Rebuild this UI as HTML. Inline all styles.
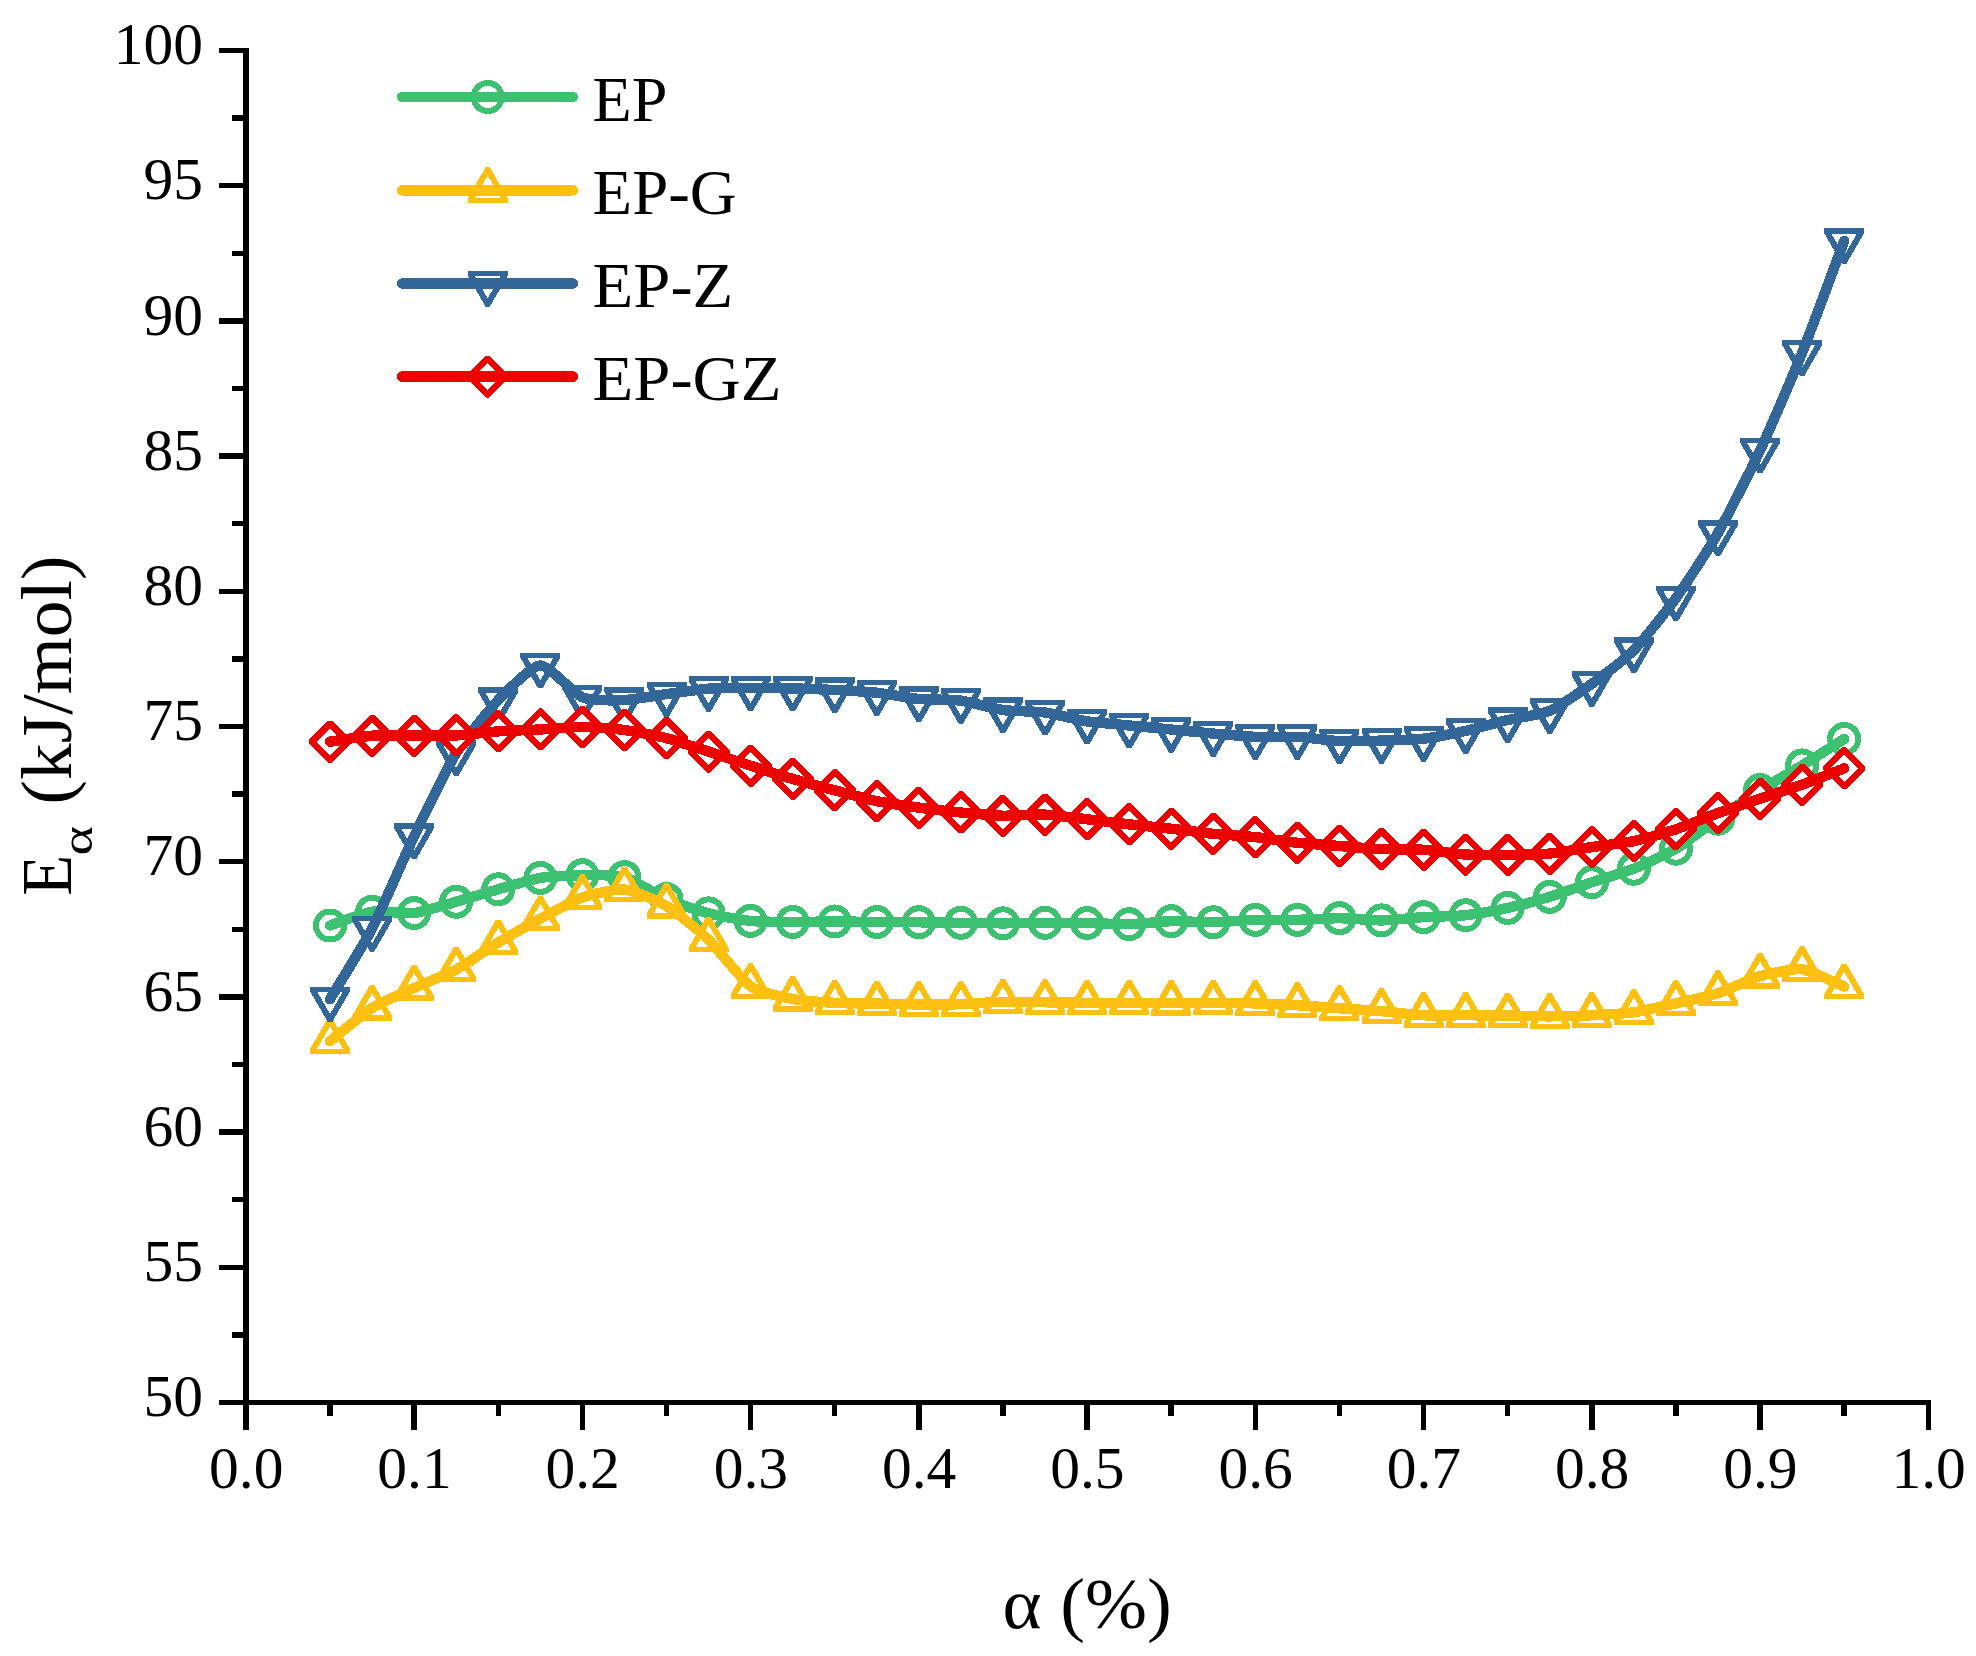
<!DOCTYPE html>
<html lang="en">
<head>
<meta charset="utf-8">
<title>Activation energy vs conversion</title>
<style>
html,body{margin:0;padding:0;background:#fff;}
body{width:1976px;height:1656px;overflow:hidden;font-family:'Liberation Serif',serif;}
svg{display:block;}
</style>
</head>
<body>
<svg width="1976" height="1656" viewBox="0 0 1976 1656">
<rect width="1976" height="1656" fill="#fff"/>
<defs>
<circle id="mc" r="14.0" fill="#fff" stroke="#3BC16F" stroke-width="6"/>
<g id="mu"><path d="M-2.19 -23.00L2.19 -23.00L20.00 7.84L20.00 12.60L-20.00 12.60L-20.00 7.84Z" fill="#FEC010"/><path d="M0.00 -14.80L12.82 7.40L-12.82 7.40Z" fill="#fff"/></g>
<g id="md"><path d="M-2.19 23.00L2.19 23.00L20.00 -7.84L20.00 -12.60L-20.00 -12.60L-20.00 -7.84Z" fill="#336699"/><path d="M0.00 14.80L12.82 -7.40L-12.82 -7.40Z" fill="#fff"/></g>
<g id="mr"><path d="M-1.70 -21.00L1.70 -21.00L21.00 -1.70L21.00 1.70L1.70 21.00L-1.70 21.00L-21.00 1.70L-21.00 -1.70Z" fill="#EE0000"/><path d="M0.00 -13.60L13.60 0.00L0.00 13.60L-13.60 0.00Z" fill="#fff"/></g>
</defs>
<g id="series" shape-rendering="crispEdges">
<use href="#mc" x="330.02" y="925.51"/>
<use href="#mc" x="372.08" y="911.72"/>
<use href="#mc" x="414.14" y="913.08"/>
<use href="#mc" x="456.2" y="901.72"/>
<use href="#mc" x="498.26" y="889.28"/>
<use href="#mc" x="540.32" y="877.92"/>
<use href="#mc" x="582.38" y="875.22"/>
<use href="#mc" x="624.44" y="877.11"/>
<use href="#mc" x="666.5" y="899.02"/>
<use href="#mc" x="708.56" y="913.35"/>
<use href="#mc" x="750.62" y="920.92"/>
<use href="#mc" x="792.68" y="922"/>
<use href="#mc" x="834.74" y="921.46"/>
<use href="#mc" x="876.8" y="922"/>
<use href="#mc" x="918.86" y="922.27"/>
<use href="#mc" x="960.92" y="922.81"/>
<use href="#mc" x="1002.98" y="923.35"/>
<use href="#mc" x="1045.04" y="922.81"/>
<use href="#mc" x="1087.1" y="923.08"/>
<use href="#mc" x="1129.16" y="924.16"/>
<use href="#mc" x="1171.22" y="921.19"/>
<use href="#mc" x="1213.28" y="922.27"/>
<use href="#mc" x="1255.34" y="919.84"/>
<use href="#mc" x="1297.4" y="919.84"/>
<use href="#mc" x="1339.46" y="918.21"/>
<use href="#mc" x="1381.52" y="920.38"/>
<use href="#mc" x="1423.58" y="917.13"/>
<use href="#mc" x="1465.64" y="915.24"/>
<use href="#mc" x="1507.7" y="907.94"/>
<use href="#mc" x="1549.76" y="896.85"/>
<use href="#mc" x="1591.82" y="882.25"/>
<use href="#mc" x="1633.88" y="868.73"/>
<use href="#mc" x="1675.94" y="848.72"/>
<use href="#mc" x="1718" y="818.71"/>
<use href="#mc" x="1760.06" y="790.04"/>
<use href="#mc" x="1802.12" y="765.44"/>
<use href="#mc" x="1844.18" y="738.94"/>
<path d="M330.02 925.51C334.23 924.14 363.67 912.97 372.08 911.72C380.49 910.48 405.73 914.08 414.14 913.08C422.55 912.08 447.79 904.1 456.2 901.72C464.61 899.34 489.85 891.66 498.26 889.28C506.67 886.9 531.91 879.33 540.32 877.92C548.73 876.52 573.97 875.3 582.38 875.22C590.79 875.14 616.03 874.73 624.44 877.11C632.85 879.49 658.09 895.39 666.5 899.02C674.91 902.64 700.15 911.16 708.56 913.35C716.97 915.54 742.21 920.05 750.62 920.92C759.03 921.78 784.27 921.95 792.68 922C801.09 922.05 826.33 921.46 834.74 921.46C843.15 921.46 868.39 921.92 876.8 922C885.21 922.08 910.45 922.19 918.86 922.27C927.27 922.35 952.51 922.7 960.92 922.81C969.33 922.92 994.57 923.35 1002.98 923.35C1011.39 923.35 1036.63 922.84 1045.04 922.81C1053.45 922.78 1078.69 922.95 1087.1 923.08C1095.51 923.22 1120.75 924.35 1129.16 924.16C1137.57 923.97 1162.81 921.38 1171.22 921.19C1179.63 921 1204.87 922.4 1213.28 922.27C1221.69 922.13 1246.93 920.08 1255.34 919.84C1263.75 919.59 1288.99 920 1297.4 919.84C1305.81 919.67 1331.05 918.16 1339.46 918.21C1347.87 918.27 1373.11 920.48 1381.52 920.38C1389.93 920.27 1415.17 917.65 1423.58 917.13C1431.99 916.62 1457.23 916.16 1465.64 915.24C1474.05 914.32 1499.29 909.78 1507.7 907.94C1516.11 906.1 1541.35 899.42 1549.76 896.85C1558.17 894.28 1583.41 885.06 1591.82 882.25C1600.23 879.44 1625.47 872.08 1633.88 868.73C1642.29 865.38 1667.53 853.72 1675.94 848.72C1684.35 843.72 1709.59 824.57 1718 818.71C1726.41 812.84 1751.65 795.37 1760.06 790.04C1768.47 784.72 1793.71 770.55 1802.12 765.44C1810.53 760.33 1839.97 741.59 1844.18 738.94" fill="none" stroke="#3BC16F" stroke-width="10.4" stroke-linecap="round" stroke-linejoin="round"/>
<use href="#mu" x="330.02" y="1041.22"/>
<use href="#mu" x="372.08" y="1007.96"/>
<use href="#mu" x="414.14" y="987.95"/>
<use href="#mu" x="456.2" y="969.56"/>
<use href="#mu" x="498.26" y="942.52"/>
<use href="#mu" x="540.32" y="918.73"/>
<use href="#mu" x="582.38" y="897.37"/>
<use href="#mu" x="624.44" y="889.52"/>
<use href="#mu" x="666.5" y="906.02"/>
<use href="#mu" x="708.56" y="939.82"/>
<use href="#mu" x="750.62" y="986.33"/>
<use href="#mu" x="792.68" y="999.04"/>
<use href="#mu" x="834.74" y="1002.82"/>
<use href="#mu" x="876.8" y="1003.63"/>
<use href="#mu" x="918.86" y="1004.44"/>
<use href="#mu" x="960.92" y="1004.17"/>
<use href="#mu" x="1002.98" y="1001.74"/>
<use href="#mu" x="1045.04" y="1002.28"/>
<use href="#mu" x="1087.1" y="1002.82"/>
<use href="#mu" x="1129.16" y="1002.82"/>
<use href="#mu" x="1171.22" y="1003.09"/>
<use href="#mu" x="1213.28" y="1002.82"/>
<use href="#mu" x="1255.34" y="1003.36"/>
<use href="#mu" x="1297.4" y="1005.26"/>
<use href="#mu" x="1339.46" y="1008.23"/>
<use href="#mu" x="1381.52" y="1011.2"/>
<use href="#mu" x="1423.58" y="1015.26"/>
<use href="#mu" x="1465.64" y="1015.26"/>
<use href="#mu" x="1507.7" y="1015.53"/>
<use href="#mu" x="1549.76" y="1016.34"/>
<use href="#mu" x="1591.82" y="1015.26"/>
<use href="#mu" x="1633.88" y="1012.29"/>
<use href="#mu" x="1675.94" y="1003.36"/>
<use href="#mu" x="1718" y="993.36"/>
<use href="#mu" x="1760.06" y="976.05"/>
<use href="#mu" x="1802.12" y="969.29"/>
<use href="#mu" x="1844.18" y="986.6"/>
<path d="M330.02 1041.22C334.23 1037.89 363.67 1013.29 372.08 1007.96C380.49 1002.63 405.73 991.79 414.14 987.95C422.55 984.11 447.79 974.11 456.2 969.56C464.61 965.02 489.85 947.61 498.26 942.52C506.67 937.44 531.91 923.24 540.32 918.73C548.73 914.21 573.97 900.29 582.38 897.37C590.79 894.45 616.03 888.66 624.44 889.52C632.85 890.39 658.09 900.99 666.5 906.02C674.91 911.05 700.15 931.79 708.56 939.82C716.97 947.85 742.21 980.41 750.62 986.33C759.03 992.25 784.27 997.39 792.68 999.04C801.09 1000.69 826.33 1002.36 834.74 1002.82C843.15 1003.28 868.39 1003.47 876.8 1003.63C885.21 1003.8 910.45 1004.39 918.86 1004.44C927.27 1004.5 952.51 1004.44 960.92 1004.17C969.33 1003.9 994.57 1001.93 1002.98 1001.74C1011.39 1001.55 1036.63 1002.17 1045.04 1002.28C1053.45 1002.39 1078.69 1002.77 1087.1 1002.82C1095.51 1002.88 1120.75 1002.79 1129.16 1002.82C1137.57 1002.85 1162.81 1003.09 1171.22 1003.09C1179.63 1003.09 1204.87 1002.79 1213.28 1002.82C1221.69 1002.85 1246.93 1003.12 1255.34 1003.36C1263.75 1003.61 1288.99 1004.77 1297.4 1005.26C1305.81 1005.74 1331.05 1007.63 1339.46 1008.23C1347.87 1008.82 1373.11 1010.5 1381.52 1011.2C1389.93 1011.91 1415.17 1014.85 1423.58 1015.26C1431.99 1015.67 1457.23 1015.23 1465.64 1015.26C1474.05 1015.29 1499.29 1015.42 1507.7 1015.53C1516.11 1015.64 1541.35 1016.37 1549.76 1016.34C1558.17 1016.31 1583.41 1015.67 1591.82 1015.26C1600.23 1014.85 1625.47 1013.48 1633.88 1012.29C1642.29 1011.1 1667.53 1005.26 1675.94 1003.36C1684.35 1001.47 1709.59 996.09 1718 993.36C1726.41 990.63 1751.65 978.46 1760.06 976.05C1768.47 973.65 1793.71 968.24 1802.12 969.29C1810.53 970.35 1839.97 984.87 1844.18 986.6" fill="none" stroke="#FEC010" stroke-width="10.4" stroke-linecap="round" stroke-linejoin="round"/>
<use href="#md" x="330.02" y="999.12"/>
<use href="#md" x="372.08" y="928.54"/>
<use href="#md" x="414.14" y="836.07"/>
<use href="#md" x="456.2" y="753.05"/>
<use href="#md" x="498.26" y="700.05"/>
<use href="#md" x="540.32" y="665.44"/>
<use href="#md" x="582.38" y="697.35"/>
<use href="#md" x="624.44" y="700.05"/>
<use href="#md" x="666.5" y="694.11"/>
<use href="#md" x="708.56" y="688.7"/>
<use href="#md" x="750.62" y="688.16"/>
<use href="#md" x="792.68" y="688.43"/>
<use href="#md" x="834.74" y="690.05"/>
<use href="#md" x="876.8" y="692.75"/>
<use href="#md" x="918.86" y="698.97"/>
<use href="#md" x="960.92" y="700.6"/>
<use href="#md" x="1002.98" y="710.06"/>
<use href="#md" x="1045.04" y="712.49"/>
<use href="#md" x="1087.1" y="721.42"/>
<use href="#md" x="1129.16" y="725.47"/>
<use href="#md" x="1171.22" y="729.53"/>
<use href="#md" x="1213.28" y="733.58"/>
<use href="#md" x="1255.34" y="736.83"/>
<use href="#md" x="1297.4" y="736.83"/>
<use href="#md" x="1339.46" y="741.16"/>
<use href="#md" x="1381.52" y="740.61"/>
<use href="#md" x="1423.58" y="738.72"/>
<use href="#md" x="1465.64" y="730.88"/>
<use href="#md" x="1507.7" y="720.06"/>
<use href="#md" x="1549.76" y="710.87"/>
<use href="#md" x="1591.82" y="683.83"/>
<use href="#md" x="1633.88" y="650.03"/>
<use href="#md" x="1675.94" y="598.11"/>
<use href="#md" x="1718" y="532.95"/>
<use href="#md" x="1760.06" y="450.48"/>
<use href="#md" x="1802.12" y="352.86"/>
<use href="#md" x="1844.18" y="240.92"/>
<path d="M330.02 999.12C334.23 992.06 363.67 944.85 372.08 928.54C380.49 912.24 405.73 853.62 414.14 836.07C422.55 818.52 447.79 766.65 456.2 753.05C464.61 739.45 489.85 708.82 498.26 700.05C506.67 691.29 531.91 665.71 540.32 665.44C548.73 665.17 573.97 693.89 582.38 697.35C590.79 700.81 616.03 700.38 624.44 700.05C632.85 699.73 658.09 695.24 666.5 694.11C674.91 692.97 700.15 689.29 708.56 688.7C716.97 688.1 742.21 688.18 750.62 688.16C759.03 688.13 784.27 688.24 792.68 688.43C801.09 688.62 826.33 689.62 834.74 690.05C843.15 690.48 868.39 691.86 876.8 692.75C885.21 693.65 910.45 698.19 918.86 698.97C927.27 699.76 952.51 699.49 960.92 700.6C969.33 701.7 994.57 708.87 1002.98 710.06C1011.39 711.25 1036.63 711.36 1045.04 712.49C1053.45 713.63 1078.69 720.12 1087.1 721.42C1095.51 722.71 1120.75 724.66 1129.16 725.47C1137.57 726.28 1162.81 728.72 1171.22 729.53C1179.63 730.34 1204.87 732.85 1213.28 733.58C1221.69 734.31 1246.93 736.5 1255.34 736.83C1263.75 737.15 1288.99 736.4 1297.4 736.83C1305.81 737.26 1331.05 740.78 1339.46 741.16C1347.87 741.53 1373.11 740.86 1381.52 740.61C1389.93 740.37 1415.17 739.7 1423.58 738.72C1431.99 737.75 1457.23 732.75 1465.64 730.88C1474.05 729.01 1499.29 722.07 1507.7 720.06C1516.11 718.06 1541.35 714.49 1549.76 710.87C1558.17 707.25 1583.41 689.91 1591.82 683.83C1600.23 677.75 1625.47 658.6 1633.88 650.03C1642.29 641.46 1667.53 609.82 1675.94 598.11C1684.35 586.41 1709.59 547.71 1718 532.95C1726.41 518.18 1751.65 468.48 1760.06 450.48C1768.47 432.47 1793.71 373.82 1802.12 352.86C1810.53 331.91 1839.97 252.11 1844.18 240.92" fill="none" stroke="#336699" stroke-width="10.4" stroke-linecap="round" stroke-linejoin="round"/>
<use href="#mr" x="330.02" y="741.64"/>
<use href="#mr" x="372.08" y="735.69"/>
<use href="#mr" x="414.14" y="735.69"/>
<use href="#mr" x="456.2" y="735.42"/>
<use href="#mr" x="498.26" y="731.37"/>
<use href="#mr" x="540.32" y="729.47"/>
<use href="#mr" x="582.38" y="727.04"/>
<use href="#mr" x="624.44" y="730.02"/>
<use href="#mr" x="666.5" y="738.13"/>
<use href="#mr" x="708.56" y="751.65"/>
<use href="#mr" x="750.62" y="765.71"/>
<use href="#mr" x="792.68" y="778.96"/>
<use href="#mr" x="834.74" y="790.31"/>
<use href="#mr" x="876.8" y="801.13"/>
<use href="#mr" x="918.86" y="807.62"/>
<use href="#mr" x="960.92" y="812.49"/>
<use href="#mr" x="1002.98" y="815.73"/>
<use href="#mr" x="1045.04" y="814.65"/>
<use href="#mr" x="1087.1" y="819.25"/>
<use href="#mr" x="1129.16" y="824.38"/>
<use href="#mr" x="1171.22" y="828.71"/>
<use href="#mr" x="1213.28" y="833.85"/>
<use href="#mr" x="1255.34" y="837.09"/>
<use href="#mr" x="1297.4" y="842.77"/>
<use href="#mr" x="1339.46" y="846.02"/>
<use href="#mr" x="1381.52" y="849.13"/>
<use href="#mr" x="1423.58" y="849.8"/>
<use href="#mr" x="1465.64" y="854.53"/>
<use href="#mr" x="1507.7" y="854.94"/>
<use href="#mr" x="1549.76" y="853.59"/>
<use href="#mr" x="1591.82" y="847.1"/>
<use href="#mr" x="1633.88" y="841.15"/>
<use href="#mr" x="1675.94" y="829.25"/>
<use href="#mr" x="1718" y="813.03"/>
<use href="#mr" x="1760.06" y="798.7"/>
<use href="#mr" x="1802.12" y="784.64"/>
<use href="#mr" x="1844.18" y="768.41"/>
<path d="M330.02 741.64C334.23 741.05 363.67 736.29 372.08 735.69C380.49 735.1 405.73 735.72 414.14 735.69C422.55 735.67 447.79 735.86 456.2 735.42C464.61 734.99 489.85 731.96 498.26 731.37C506.67 730.77 531.91 729.91 540.32 729.47C548.73 729.04 573.97 726.99 582.38 727.04C590.79 727.09 616.03 728.91 624.44 730.02C632.85 731.12 658.09 735.96 666.5 738.13C674.91 740.29 700.15 748.89 708.56 751.65C716.97 754.41 742.21 762.98 750.62 765.71C759.03 768.44 784.27 776.5 792.68 778.96C801.09 781.42 826.33 788.1 834.74 790.31C843.15 792.53 868.39 799.4 876.8 801.13C885.21 802.86 910.45 806.48 918.86 807.62C927.27 808.76 952.51 811.68 960.92 812.49C969.33 813.3 994.57 815.52 1002.98 815.73C1011.39 815.95 1036.63 814.3 1045.04 814.65C1053.45 815 1078.69 818.27 1087.1 819.25C1095.51 820.22 1120.75 823.44 1129.16 824.38C1137.57 825.33 1162.81 827.76 1171.22 828.71C1179.63 829.66 1204.87 833.01 1213.28 833.85C1221.69 834.69 1246.93 836.2 1255.34 837.09C1263.75 837.99 1288.99 841.88 1297.4 842.77C1305.81 843.66 1331.05 845.38 1339.46 846.02C1347.87 846.65 1373.11 848.75 1381.52 849.13C1389.93 849.5 1415.17 849.26 1423.58 849.8C1431.99 850.34 1457.23 854.02 1465.64 854.53C1474.05 855.05 1499.29 855.03 1507.7 854.94C1516.11 854.85 1541.35 854.37 1549.76 853.59C1558.17 852.8 1583.41 848.34 1591.82 847.1C1600.23 845.85 1625.47 842.93 1633.88 841.15C1642.29 839.36 1667.53 832.06 1675.94 829.25C1684.35 826.44 1709.59 816.08 1718 813.03C1726.41 809.97 1751.65 801.54 1760.06 798.7C1768.47 795.86 1793.71 787.66 1802.12 784.64C1810.53 781.61 1839.97 770.03 1844.18 768.41" fill="none" stroke="#EE0000" stroke-width="10.4" stroke-linecap="round" stroke-linejoin="round"/>
</g>
<g id="axes" stroke="#000" stroke-width="5.5" fill="none" stroke-linecap="butt" shape-rendering="crispEdges"><path d="M245.9 47.75V1405.25"/><path d="M219 1402.5H1931.05"/><path d="M219 1402.5H245.9"/><path d="M232 1334.9H245.9"/><path d="M219 1267.3H245.9"/><path d="M232 1199.7H245.9"/><path d="M219 1132.1H245.9"/><path d="M232 1064.5H245.9"/><path d="M219 996.9H245.9"/><path d="M232 929.3H245.9"/><path d="M219 861.7H245.9"/><path d="M232 794.1H245.9"/><path d="M219 726.5H245.9"/><path d="M232 658.9H245.9"/><path d="M219 591.3H245.9"/><path d="M232 523.7H245.9"/><path d="M219 456.1H245.9"/><path d="M232 388.5H245.9"/><path d="M219 320.9H245.9"/><path d="M232 253.3H245.9"/><path d="M219 185.7H245.9"/><path d="M232 118.1H245.9"/><path d="M219 50.5H245.9"/><path d="M245.9 1402.5V1430"/><path d="M330.02 1402.5V1416"/><path d="M414.14 1402.5V1430"/><path d="M498.26 1402.5V1416"/><path d="M582.38 1402.5V1430"/><path d="M666.5 1402.5V1416"/><path d="M750.62 1402.5V1430"/><path d="M834.74 1402.5V1416"/><path d="M918.86 1402.5V1430"/><path d="M1002.98 1402.5V1416"/><path d="M1087.1 1402.5V1430"/><path d="M1171.22 1402.5V1416"/><path d="M1255.34 1402.5V1430"/><path d="M1339.46 1402.5V1416"/><path d="M1423.58 1402.5V1430"/><path d="M1507.7 1402.5V1416"/><path d="M1591.82 1402.5V1430"/><path d="M1675.94 1402.5V1416"/><path d="M1760.06 1402.5V1430"/><path d="M1844.18 1402.5V1416"/><path d="M1928.3 1402.5V1430"/></g>
<g id="ticklabels" font-family="'Liberation Serif', serif" font-size="59.5" fill="#000"><text x="202.9" y="1416.1" text-anchor="end">50</text><text x="202.9" y="1280.9" text-anchor="end">55</text><text x="202.9" y="1145.7" text-anchor="end">60</text><text x="202.9" y="1010.5" text-anchor="end">65</text><text x="202.9" y="875.3" text-anchor="end">70</text><text x="202.9" y="740.1" text-anchor="end">75</text><text x="202.9" y="604.9" text-anchor="end">80</text><text x="202.9" y="469.7" text-anchor="end">85</text><text x="202.9" y="334.5" text-anchor="end">90</text><text x="202.9" y="199.3" text-anchor="end">95</text><text x="202.9" y="64.1" text-anchor="end">100</text><text x="246.2" y="1488.2" text-anchor="middle">0.0</text><text x="414.44" y="1488.2" text-anchor="middle">0.1</text><text x="582.68" y="1488.2" text-anchor="middle">0.2</text><text x="750.92" y="1488.2" text-anchor="middle">0.3</text><text x="919.16" y="1488.2" text-anchor="middle">0.4</text><text x="1087.4" y="1488.2" text-anchor="middle">0.5</text><text x="1255.64" y="1488.2" text-anchor="middle">0.6</text><text x="1423.88" y="1488.2" text-anchor="middle">0.7</text><text x="1592.12" y="1488.2" text-anchor="middle">0.8</text><text x="1760.36" y="1488.2" text-anchor="middle">0.9</text><text x="1928.6" y="1488.2" text-anchor="middle">1.0</text></g>
<text id="xtitle" transform="translate(1087.2 1628) scale(1.034 1)" text-anchor="middle" font-family="'Liberation Serif', serif" font-size="72" fill="#000">α (%)</text>
<g id="ytitle" transform="translate(71.3 726.5) rotate(-90)" font-family="'Liberation Serif', serif" font-size="72" fill="#000"><text transform="translate(-169.2 0) scale(0.93 1)">E</text><text transform="translate(-129.0 21) scale(1.25 1)" font-size="45">α</text><text transform="translate(-78.0 0) scale(1.02 1)">(kJ/mol)</text></g>
<g id="legend" shape-rendering="crispEdges"><use href="#mc" x="487.7" y="97.0"/><path d="M402 97.0H573" stroke="#3BC16F" stroke-width="10.4" stroke-linecap="round" fill="none"/><text transform="translate(592.6 120.5) scale(1.01 1)" font-family="'Liberation Serif', serif" font-size="63.5" fill="#000">EP</text><use href="#mu" x="487.7" y="190.4"/><path d="M402 190.4H573" stroke="#FEC010" stroke-width="10.4" stroke-linecap="round" fill="none"/><text transform="translate(592.6 213.9) scale(1.02 1)" font-family="'Liberation Serif', serif" font-size="63.5" fill="#000">EP-G</text><use href="#md" x="487.7" y="283.5"/><path d="M402 283.5H573" stroke="#336699" stroke-width="10.4" stroke-linecap="round" fill="none"/><text transform="translate(592.6 307) scale(1.05 1)" font-family="'Liberation Serif', serif" font-size="63.5" fill="#000">EP-Z</text><use href="#mr" x="487.7" y="376.6"/><path d="M402 376.6H573" stroke="#EE0000" stroke-width="10.4" stroke-linecap="round" fill="none"/><text transform="translate(592.6 400.1) scale(1.05 1)" font-family="'Liberation Serif', serif" font-size="63.5" fill="#000">EP-GZ</text></g>
</svg>
</body>
</html>
